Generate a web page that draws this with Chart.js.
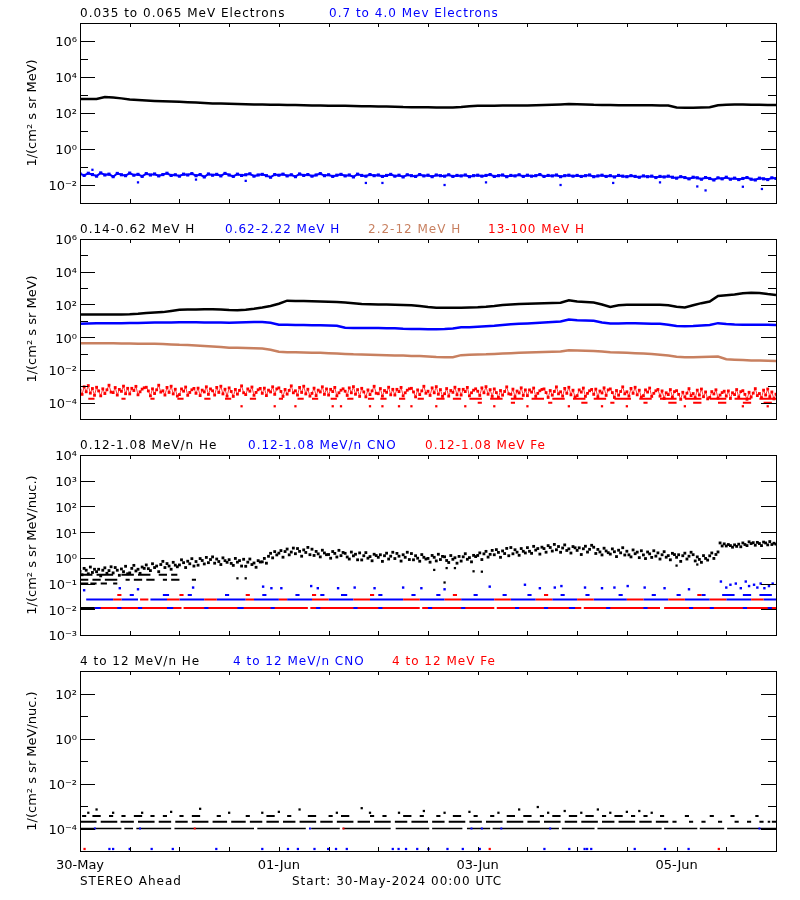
<!DOCTYPE html>
<html>
<head>
<meta charset="utf-8">
<script src="https://cdn.jsdelivr.net/npm/chart.js@4.4.1/dist/chart.umd.min.js"></script>
<style>
  body { margin: 0; background: #fff; }
  #page { position: relative; width: 800px; height: 900px; overflow: hidden; font-family: 'DejaVu Sans'; }
  canvas { position: absolute; left: 0; }
  .lbl { position: absolute; font-size: 12px; letter-spacing: 1px; line-height: 14px; white-space: pre; }
</style>
</head>
<body>
<div id="page"></div>
<script>
// hours since 30-May-2024 00:00 UTC
const xTickHours = [0, 12, 24, 36, 48, 60, 72, 84, 96, 108, 120, 132, 144, 156, 168]
const dayTickHours = [0, 48, 96, 144]
const dayTickLabels = ['30-May', '01-Jun', '03-Jun', '05-Jun']

// panel 1 - electrons
const electronLowStep = 2
const electronLow = [
  600, 600, 600, 780, 720, 650, 560, 530, 500, 470,
  450, 440, 420, 400, 380, 360, 340, 335, 330, 320,
  310, 300, 295, 290, 285, 280, 275, 270, 265, 260,
  255, 252, 250, 245, 240, 235, 230, 228, 225, 215,
  212, 210, 208, 205, 200, 205, 215, 235, 255, 255,
  255, 258, 262, 265, 265, 270, 275, 285, 300, 315,
  310, 300, 285, 278, 275, 272, 270, 270, 268, 266,
  265, 262, 200, 196, 198, 205, 210, 270, 290, 300,
  295, 290, 285, 280, 278
]
const electronHighStep = 1
const electronHigh = [
  0.042, 0.034, 0.045, 0.038, 0.031, 0.047, 0.036, 0.040, 0.029, 0.044, 0.037, 0.033,
  0.046, 0.035, 0.039, 0.030, 0.043, 0.036, 0.041, 0.032, 0.038, 0.045, 0.034, 0.037,
  0.031, 0.040, 0.036, 0.043, 0.033, 0.038, 0.028, 0.041, 0.035, 0.039, 0.032, 0.044,
  0.036, 0.030, 0.040, 0.034, 0.037, 0.042, 0.031, 0.036, 0.039, 0.033, 0.027, 0.038,
  0.035, 0.040, 0.032, 0.037, 0.029, 0.041, 0.034, 0.038, 0.031, 0.036, 0.043, 0.033,
  0.037, 0.030, 0.035, 0.039, 0.032, 0.036, 0.028, 0.040, 0.034, 0.031, 0.038, 0.033,
  0.036, 0.030, 0.034, 0.039, 0.031, 0.035, 0.028, 0.037, 0.033, 0.030, 0.038, 0.032,
  0.035, 0.029, 0.036, 0.033, 0.031, 0.037, 0.030, 0.034, 0.032, 0.036, 0.029, 0.033,
  0.035, 0.031, 0.034, 0.038, 0.030, 0.033, 0.036, 0.029, 0.034, 0.032, 0.037, 0.030,
  0.035, 0.031, 0.033, 0.038, 0.030, 0.034, 0.032, 0.036, 0.029, 0.033, 0.035, 0.031,
  0.034, 0.030, 0.033, 0.036, 0.029, 0.032, 0.035, 0.030, 0.033, 0.028, 0.034, 0.031,
  0.029, 0.033, 0.030, 0.027, 0.032, 0.029, 0.031, 0.026, 0.030, 0.028, 0.031, 0.027,
  0.024, 0.029, 0.026, 0.022, 0.027, 0.025, 0.021, 0.026, 0.023, 0.019, 0.025, 0.022,
  0.027, 0.021, 0.024, 0.020, 0.023, 0.026, 0.021, 0.019, 0.024, 0.022, 0.020, 0.025,
  0.023
]
const electronOutHours = [3, 14, 28, 40, 69, 73, 88, 98, 116, 128.7, 140, 149, 151, 160, 164.6]
const electronOutValues = [0.07, 0.014, 0.02, 0.017, 0.013, 0.013, 0.01, 0.014, 0.01, 0.013, 0.014, 0.0083, 0.005, 0.008, 0.006]

// panel 2 - protons
const protonStep = 2
const proton014 = [
  24, 24, 24, 24, 24, 24, 25, 27, 30, 32,
  34, 40, 47, 49, 50, 51, 51, 50, 46, 44,
  48, 55, 65, 80, 110, 170, 165, 160, 155, 150,
  145, 140, 130, 118, 108, 104, 100, 98, 95, 94,
  90, 80, 70, 63, 62, 62, 64, 66, 68, 72,
  80, 92, 100, 108, 112, 115, 118, 122, 128, 180,
  150, 140, 130, 100, 70, 88, 95, 95, 95, 96,
  95, 90, 72, 65, 90, 120, 150, 330, 360, 400,
  480, 520, 500, 430, 380
]
const proton062 = [
  6.6, 6.8, 7.0, 7.0, 7.2, 7.2, 7.4, 7.4, 7.6, 7.8,
  7.8, 8.0, 8.2, 8.2, 8.2, 8.0, 8.0, 7.8, 7.6, 7.8,
  8.2, 8.4, 8.4, 7.6, 5.8, 5.8, 5.6, 5.6, 5.4, 5.3,
  5.2, 5.0, 3.8, 3.7, 3.7, 3.6, 3.6, 3.5, 3.5, 3.3,
  3.2, 3.2, 3.1, 3.1, 3.2, 3.4, 4.0, 4.1, 4.3, 4.6,
  5.0, 5.6, 6.2, 6.6, 6.9, 7.4, 8.0, 8.6, 9.2, 12,
  11, 10.5, 10, 8.0, 6.8, 6.8, 7.0, 7.0, 6.8, 6.6,
  6.6, 5.8, 4.9, 4.7, 4.8, 5.2, 5.6, 7.2, 6.4, 6.0,
  5.8, 5.8, 5.7, 5.7, 5.6
]
const proton22 = [
  0.43, 0.43, 0.42, 0.42, 0.42, 0.41, 0.41, 0.40, 0.40, 0.39,
  0.38, 0.36, 0.34, 0.33, 0.31, 0.29, 0.27, 0.25, 0.23, 0.23,
  0.22, 0.21, 0.20, 0.17, 0.13, 0.12, 0.12, 0.115, 0.11, 0.11,
  0.105, 0.10, 0.095, 0.09, 0.088, 0.085, 0.082, 0.08, 0.076, 0.075,
  0.072, 0.07, 0.066, 0.062, 0.06, 0.06, 0.08, 0.085, 0.088, 0.09,
  0.095, 0.10, 0.105, 0.11, 0.115, 0.12, 0.125, 0.13, 0.135, 0.16,
  0.155, 0.15, 0.145, 0.135, 0.12, 0.115, 0.11, 0.105, 0.10, 0.095,
  0.085, 0.075, 0.063, 0.06, 0.06, 0.062, 0.064, 0.066, 0.045, 0.042,
  0.04, 0.038, 0.037, 0.036, 0.035
]
const proton13Step = 0.5
const proton13 = [
  5.8e-4, 3.2e-4, 9.3e-4, 4.6e-4, 1.1e-3, 3.8e-4, 7.3e-4, 2.8e-4,
  8.7e-4, 5.2e-4, 2.6e-4, 7.0e-4, 3.6e-4, 6.1e-4, 1.16e-3, 4.4e-4,
  4.1e-4, 8.4e-4, 2.9e-4, 6.4e-4, 4.9e-4, 1.02e-3, 3.5e-4, 7.5e-4,
  3.4e-4, 7.5e-4, 5.5e-4, 9.9e-4, 3.0e-4, 4.6e-4, 6.7e-4, 8.1e-4,
  8.7e-4, 5.2e-4, 2.6e-4, 7.0e-4, 3.6e-4, 6.1e-4, 1.16e-3, 4.4e-4,
  5.3e-4, 2.9e-4, 8.5e-4, 4.2e-4, 1.01e-3, 3.4e-4, 6.6e-4, 2.5e-4,
  3.1e-4, 6.9e-4, 5.0e-4, 9.0e-4, 2.8e-4, 4.2e-4, 6.1e-4, 7.4e-4,
  3.7e-4, 7.7e-4, 2.7e-4, 5.8e-4, 4.5e-4, 9.3e-4, 3.2e-4, 6.9e-4,
  5.3e-4, 2.9e-4, 8.5e-4, 4.2e-4, 1.01e-3, 3.4e-4, 6.6e-4, 2.5e-4,
  8.0e-4, 4.8e-4, 2.4e-4, 6.4e-4, 3.3e-4, 5.6e-4, 1.06e-3, 4.0e-4,
  3.1e-4, 6.9e-4, 5.0e-4, 9.0e-4, 2.8e-4, 4.2e-4, 6.1e-4, 7.4e-4,
  3.7e-4, 7.7e-4, 2.7e-4, 5.8e-4, 4.5e-4, 9.3e-4, 3.2e-4, 6.9e-4,
  8.0e-4, 4.8e-4, 2.4e-4, 6.4e-4, 3.3e-4, 5.6e-4, 1.06e-3, 4.0e-4,
  5.3e-4, 2.9e-4, 8.5e-4, 4.2e-4, 1.01e-3, 3.4e-4, 6.6e-4, 2.5e-4,
  3.7e-4, 7.7e-4, 2.7e-4, 5.8e-4, 4.5e-4, 9.3e-4, 3.2e-4, 6.9e-4,
  2.9e-4, 6.5e-4, 4.75e-4, 8.5e-4, 2.6e-4, 4.0e-4, 5.75e-4, 7.0e-4,
  5.0e-4, 2.75e-4, 8.0e-4, 4.0e-4, 9.5e-4, 3.25e-4, 6.25e-4, 2.4e-4,
  7.5e-4, 4.5e-4, 2.25e-4, 6.0e-4, 3.1e-4, 5.25e-4, 1.0e-3, 3.75e-4,
  3.5e-4, 7.25e-4, 2.5e-4, 5.5e-4, 4.25e-4, 8.75e-4, 3.0e-4, 6.5e-4,
  2.9e-4, 6.5e-4, 4.75e-4, 8.5e-4, 2.6e-4, 4.0e-4, 5.75e-4, 7.0e-4,
  7.5e-4, 4.5e-4, 2.25e-4, 6.0e-4, 3.1e-4, 5.25e-4, 1.0e-3, 3.75e-4,
  5.0e-4, 2.75e-4, 8.0e-4, 4.0e-4, 9.5e-4, 3.25e-4, 6.25e-4, 2.4e-4,
  3.5e-4, 7.25e-4, 2.5e-4, 5.5e-4, 4.25e-4, 8.75e-4, 3.0e-4, 6.5e-4,
  2.9e-4, 6.5e-4, 4.75e-4, 8.5e-4, 2.6e-4, 4.0e-4, 5.75e-4, 7.0e-4,
  5.0e-4, 2.75e-4, 8.0e-4, 4.0e-4, 9.5e-4, 3.25e-4, 6.25e-4, 2.4e-4,
  6.9e-4, 4.1e-4, 2.07e-4, 5.5e-4, 2.85e-4, 4.8e-4, 9.2e-4, 3.45e-4,
  3.2e-4, 6.7e-4, 2.3e-4, 5.1e-4, 3.9e-4, 8.05e-4, 2.76e-4, 6.0e-4,
  2.67e-4, 6.0e-4, 4.4e-4, 7.8e-4, 2.4e-4, 3.7e-4, 5.3e-4, 6.4e-4,
  6.9e-4, 4.1e-4, 2.07e-4, 5.5e-4, 2.85e-4, 4.8e-4, 9.2e-4, 3.45e-4,
  4.6e-4, 2.5e-4, 7.4e-4, 3.7e-4, 8.7e-4, 3.0e-4, 5.75e-4, 2.2e-4,
  2.67e-4, 6.0e-4, 4.4e-4, 7.8e-4, 2.4e-4, 3.7e-4, 5.3e-4, 6.4e-4,
  3.2e-4, 6.7e-4, 2.3e-4, 5.1e-4, 3.9e-4, 8.05e-4, 2.76e-4, 6.0e-4,
  6.9e-4, 4.1e-4, 2.07e-4, 5.5e-4, 2.85e-4, 4.8e-4, 9.2e-4, 3.45e-4,
  4.6e-4, 2.5e-4, 7.4e-4, 3.7e-4, 8.7e-4, 3.0e-4, 5.75e-4, 2.2e-4,
  2.67e-4, 6.0e-4, 4.4e-4, 7.8e-4, 2.4e-4, 3.7e-4, 5.3e-4, 6.4e-4,
  2.5e-4, 5.2e-4, 1.8e-4, 4.0e-4, 3.1e-4, 6.3e-4, 2.2e-4, 4.7e-4,
  5.4e-4, 3.2e-4, 1.6e-4, 4.3e-4, 2.2e-4, 3.8e-4, 7.2e-4, 2.7e-4,
  3.6e-4, 2.0e-4, 5.8e-4, 2.9e-4, 6.8e-4, 2.3e-4, 4.5e-4, 1.7e-4,
  2.1e-4, 4.7e-4, 3.4e-4, 6.1e-4, 1.9e-4, 2.9e-4, 4.1e-4, 5.0e-4,
  2.5e-4, 5.2e-4, 1.8e-4, 4.0e-4, 3.1e-4, 6.3e-4, 2.2e-4, 4.7e-4,
  5.4e-4, 3.2e-4, 1.6e-4, 4.3e-4, 2.2e-4, 3.8e-4, 7.2e-4, 2.7e-4,
  3.6e-4, 2.0e-4, 5.8e-4, 2.9e-4, 6.8e-4, 2.3e-4, 4.5e-4, 1.7e-4,
  3.3e-4
]
// single-count rows of the 13-100 MeV channel: [start, end] hours
const proton13RowA = [[2, 3.5], [10, 11], [17, 18], [23.5, 25], [30, 31.5], [35, 36.5], [41, 42.5], [48, 49], [52.5, 54], [56, 57.5], [60.5, 62], [64.5, 66], [69.5, 71], [72.5, 74], [77, 78.5], [81.5, 83], [86, 88], [90, 92], [94, 97], [99, 102], [104, 107], [109, 112], [114, 117], [119, 122], [124, 127], [129, 133], [135, 138], [140, 144], [146, 150], [152, 156], [158, 162], [164, 168]]
const proton13RowALevel = 1.7e-4
const proton13RowB = [[96, 97], [104, 105], [113, 114], [121, 122.5], [128, 129], [136, 137], [142, 144], [148, 150], [154, 156], [160, 162], [165, 167]]
const proton13RowBLevel = 1.0e-4
const proton13LowHours = [39, 47, 52, 61, 63, 70, 73, 77, 80, 86, 93, 100, 108, 118, 126, 132, 146, 160, 166]
const proton13LowLevel = 6e-5

// panel 3 - 0.12-1.08 MeV/n heavy ions
const heLowStep = 0.5
const heLow = [
  0.3, 0.22, 0.39, 0.33, 0.24, 0.44, 0.27, 0.36,
  0.29, 0.36, 0.2, 0.33, 0.41, 0.25, 0.32, 0.45,
  0.26, 0.42, 0.33, 0.21, 0.37, 0.29, 0.47, 0.24,
  0.26, 0.39, 0.51, 0.31, 0.36, 0.25, 0.44, 0.39,
  0.53, 0.38, 0.32, 0.59, 0.42, 0.48, 0.29, 0.55,
  0.73, 0.42, 0.6, 0.48, 0.36, 0.67, 0.52, 0.45,
  0.53, 0.84, 0.65, 0.42, 0.74, 0.59, 0.93, 0.48,
  0.72, 0.52, 0.94, 0.79, 0.58, 1.04, 0.65, 0.86,
  1.09, 0.62, 0.9, 0.72, 0.55, 1.0, 0.78, 0.67,
  0.85, 0.61, 0.51, 0.95, 0.68, 0.78, 0.48, 0.88,
  0.47, 0.68, 0.9, 0.55, 0.63, 0.43, 0.78, 0.69,
  0.7, 0.95, 0.62, 1.15, 1.5, 1.0, 1.75, 1.3,
  1.52, 1.92, 1.06, 1.76, 2.2, 1.31, 1.68, 2.4,
  1.45, 2.3, 1.79, 1.16, 2.04, 1.62, 2.55, 1.33,
  2.17, 1.24, 1.78, 1.43, 1.09, 1.98, 1.55, 1.33,
  1.35, 0.97, 1.76, 1.49, 1.08, 1.96, 1.22, 1.62,
  1.5, 1.08, 0.9, 1.68, 1.2, 1.38, 0.84, 1.56,
  0.83, 1.21, 1.6, 0.97, 1.12, 0.77, 1.38, 1.23,
  1.05, 1.32, 0.73, 1.21, 1.52, 0.9, 1.16, 1.65,
  0.94, 1.49, 1.16, 0.75, 1.32, 1.05, 1.65, 0.86,
  1.47, 0.84, 1.21, 0.97, 0.74, 1.34, 1.05, 0.9,
  0.95, 0.68, 1.24, 1.05, 0.76, 1.38, 0.86, 1.14,
  1.1, 0.79, 0.66, 1.23, 0.88, 1.01, 0.62, 1.14,
  0.75, 1.1, 1.45, 0.88, 1.02, 0.7, 1.25, 1.12,
  1.24, 1.56, 0.86, 1.43, 1.79, 1.07, 1.37, 1.95,
  1.32, 2.09, 1.63, 1.05, 1.86, 1.47, 2.33, 1.21,
  2.52, 1.44, 2.07, 1.66, 1.26, 2.3, 1.8, 1.55,
  2.5, 1.8, 1.5, 2.8, 2.0, 2.3, 1.4, 2.6,
  2.3, 1.66, 2.99, 2.53, 1.84, 3.34, 2.07, 2.76,
  1.65, 2.42, 3.19, 1.94, 2.24, 1.54, 2.75, 2.46,
  1.95, 2.46, 1.35, 2.26, 2.83, 1.68, 2.15, 3.08,
  2.59, 1.48, 2.13, 1.7, 1.3, 2.37, 1.85, 1.59,
  1.4, 2.23, 1.73, 1.12, 1.98, 1.57, 2.48, 1.29,
  1.81, 1.31, 1.09, 2.03, 1.45, 1.67, 1.02, 1.89,
  1.3, 0.94, 1.69, 1.43, 1.04, 1.89, 1.17, 1.56,
  0.9, 1.32, 1.74, 1.06, 1.22, 0.84, 1.5, 1.34,
  1.05, 1.32, 0.73, 1.21, 1.52, 0.9, 1.16, 1.65,
  1.33, 0.76, 1.09, 0.87, 0.67, 1.22, 0.95, 0.82,
  1.2, 1.55, 0.95, 1.35, 1.7, 3.8, 2.9, 3.5,
  2.9, 3.3, 3.0, 2.6, 3.2, 2.8, 3.4, 2.7,
  3.8, 3.3, 3.0, 4.2, 3.6, 3.9, 3.1, 4.0,
  3.6, 3.0, 4.1, 3.8, 3.2, 4.3, 3.3, 3.7,
  3.4
]
const heOutHours = [38, 40, 85.5, 88, 88.5, 90.5, 95, 97, 144, 149]
const heOutValues = [0.16, 0.16, 0.34, 0.11, 0.4, 0.4, 0.3, 0.29, 0.5, 0.55]
const heRowA = [[0, 3], [4, 8], [10, 13], [14, 17], [19, 21], [22, 23.5]]
const heRowALevel = 0.22
const heRowB = [[0, 2], [3, 5], [6, 9], [11, 12], [13, 15], [16, 18], [20, 21], [22, 24], [27, 28]]
const heRowBLevel = 0.14
const heRowC = [[0, 2], [2.5, 4], [5, 6.5], [8, 9]]
const heRowCLevel = 0.1
const heFloor = [[0, 3.5]]

const countLevels = [0.0112, 0.024, 0.036]
const feRow1 = [[0, 24.5], [25, 55], [55.6, 82], [82.6, 100], [100.6, 121], [121.6, 140], [141, 168]]
const cnoRow1 = [[3.5, 5], [9, 10], [14, 15], [21, 22.5], [30, 31], [38, 39.5], [46, 47], [57, 58], [66, 67], [72, 73], [84, 85], [92, 93], [105, 106], [112, 113], [118, 119.5], [127, 128], [136, 137], [147, 148], [152, 153], [160, 161], [166, 167]]
const cnoRow2 = [[1.5, 8], [10, 14], [17, 21], [24, 30], [33, 40], [42, 48], [50, 56], [60, 66], [70, 78], [82, 88], [92, 100], [104, 110], [114, 120], [124, 132], [136, 142], [146, 152], [156, 162], [165, 168]]
const feRow2 = [[8, 10], [14.5, 16.5], [21, 24], [30, 33], [40, 42], [48, 50], [56, 60], [66, 70], [78, 82], [88, 92], [100, 104], [110, 114], [120, 124], [132, 136], [142, 146], [152, 156], [162, 165]]
const cnoRow3 = [[12, 13], [20, 21.5], [26, 27], [35, 36], [44, 45], [52, 53], [58, 59], [63, 64.5], [72, 73], [80, 81], [86, 87], [95, 96], [102, 103], [108, 109], [116, 117], [122, 123], [130, 131], [138, 139], [144, 145], [150, 151], [155, 158], [160, 162], [164, 167]]
const feRow3 = [[9, 10], [24, 25], [40, 41], [56, 57], [70, 71], [90, 91], [112, 113], [149, 150]]
const cnoDotHours = [1, 9.6, 14, 27.3, 44.2, 46.2, 48.6, 55.8, 57.4, 62.3, 66.3, 71.1, 78, 82.4, 88, 98.9, 107.4, 111, 114.6, 116.2, 121.9, 126, 129, 132.2, 136.3, 141.1, 147, 154.7, 156, 157, 158.3, 159.5, 160.7, 161.5, 162.7, 163.5, 164.3, 165.2, 166.3, 167.2]
const cnoDotValues = [0.055, 0.066, 0.06, 0.07, 0.076, 0.066, 0.066, 0.08, 0.066, 0.066, 0.07, 0.066, 0.07, 0.066, 0.06, 0.076, 0.09, 0.066, 0.07, 0.08, 0.07, 0.066, 0.07, 0.08, 0.07, 0.066, 0.06, 0.12, 0.07, 0.09, 0.1, 0.066, 0.12, 0.08, 0.09, 0.07, 0.1, 0.066, 0.08, 0.1]

// panel 4 - 4 to 12 MeV/n heavy ions
const he4Row1 = [[0, 10], [10.7, 12.8], [13.6, 22], [22.8, 42], [42.8, 54.5], [55.8, 62.7], [63.4, 75], [76.2, 84.3], [85, 92.3], [93.4, 99], [99.6, 115.6], [116.3, 124.2], [124.9, 140.4], [141, 149], [149.6, 155.5], [156.2, 168]]
const he4Row1Level = 1e-4
const he4Row2 = [[0, 4], [5, 9], [9.8, 13], [14, 18], [19, 22], [23, 26], [27, 31], [32, 35.5], [36.5, 40], [41, 44], [45, 48], [49, 52], [53, 57], [58, 61], [62, 66], [67, 70], [71, 75], [76, 79], [80, 84], [85, 88], [89, 93], [94, 97], [98, 102], [103, 107], [108, 111], [112, 116], [117, 120], [121, 125], [126, 129], [130, 134], [135, 138], [139, 142], [143, 144], [147, 148], [150, 151], [154, 155], [158, 159], [161, 162], [164, 165], [166, 166.6], [167, 168]]
const he4Row2Level = 2e-4
const he4Row3 = [[0.5, 1.5], [3, 5], [7, 8], [10, 11], [13, 15], [17, 18], [20, 21], [24, 25], [27, 29], [33, 34], [40, 41], [45, 47], [50, 51], [55, 57], [60, 61], [63, 65], [70, 71], [73, 74], [78, 80], [82, 83], [86, 87], [90, 92], [95, 96], [99, 100], [103, 105], [107, 109], [111, 112], [114, 116], [118, 120], [122, 124], [126, 127], [129, 131], [133, 134], [136, 137], [140, 141], [146, 147], [152, 153], [157, 158], [163, 163.8]]
const he4Row3Level = 3.6e-4
const he4DotHours = [2, 4, 8, 15, 22, 29, 36, 44, 48, 53, 62, 68, 70, 77, 83, 88, 94, 101, 106, 110.5, 113, 117, 121, 125, 128, 132, 135, 138]
const he4DotValues = [5e-4, 7e-4, 5e-4, 5e-4, 5.5e-4, 7.5e-4, 5e-4, 5e-4, 5.5e-4, 7e-4, 5e-4, 8e-4, 5e-4, 5e-4, 6e-4, 5e-4, 5.5e-4, 5e-4, 7e-4, 9e-4, 5e-4, 6e-4, 5e-4, 7e-4, 5e-4, 5.5e-4, 6e-4, 5e-4]
const cno4RowHours = [3.6, 14.5, 55.5, 94.5, 97, 101.7, 113.5, 164]
const fe4RowHours = [27.7, 63.6]
const floor4Level = 1.23e-5
const cno4FloorHours = [7.1, 8, 12, 17.3, 22.4, 32.9, 44, 50.2, 52.6, 56.6, 59.9, 61.8, 64.4, 75.5, 76.9, 78.7, 81.4, 84.1, 88.7, 92.4, 96.5, 112.1, 118.1, 121.8, 122.4, 123.4, 133.9, 141.2, 146.9]
const fe4FloorHours = [1.1, 98.9, 154.2]

const black = '#000000'
const blue = '#0000ff'
const red = '#ff0000'
const brown = 'rgb(200,128,96)'

const grid = (vals, step) => vals.map((v, i) => ({ x: i * step, y: v }))
const pairs = (hours, vals) => hours.map((h, i) => ({ x: h, y: vals[i] }))
const atLevel = (hours, level) => hours.map(h => ({ x: h, y: level }))
const spans = (list, level) => list.flatMap(([a, b]) => [{ x: a, y: level }, { x: b, y: level }, { x: b, y: null }])

const lineSet = (data, color, width) => ({
  data, borderColor: color, borderWidth: width, pointRadius: 0, tension: 0, spanGaps: false
})
const dotSet = (data, color, r) => ({
  data, showLine: false, pointStyle: 'rect', pointRadius: r, pointHoverRadius: 0,
  pointBackgroundColor: color, pointBorderWidth: 0
})

const sup = { '0': '⁰', '1': '¹', '2': '²', '3': '³', '4': '⁴', '5': '⁵', '6': '⁶', '7': '⁷', '-': '⁻' }
const powLabel = v => '10' + String(Math.round(Math.log10(v))).split('').map(c => sup[c]).join('')

// back to front
const panels = [
  {
    top: 23, min: 1e-3, max: 1e7, major: [-2, 0, 2, 4, 6], minor: [-1, 1, 3, 5],
    yTitle: '1/(cm² s sr MeV)',
    titles: [['0.035 to 0.065 MeV Electrons', black, 80], ['0.7 to 4.0 Mev Electrons', blue, 329]],
    sets: [
      lineSet(grid(electronLow, electronLowStep), black, 2.5),
      lineSet(grid(electronHigh, electronHighStep), blue, 2),
      dotSet(grid(electronHigh, electronHighStep), blue, 2.2),
      dotSet(pairs(electronOutHours, electronOutValues), blue, 1.6)
    ]
  },
  {
    top: 239, min: 1e-5, max: 1e6, major: [-4, -2, 0, 2, 4, 6], minor: [-3, -1, 1, 3, 5],
    yTitle: '1/(cm² s sr MeV)',
    titles: [['0.14-0.62 MeV H', black, 80], ['0.62-2.22 MeV H', blue, 225], ['2.2-12 MeV H', brown, 368], ['13-100 MeV H', red, 488]],
    sets: [
      lineSet(grid(proton014, protonStep), black, 2.5),
      lineSet(grid(proton062, protonStep), blue, 2.5),
      lineSet(grid(proton22, protonStep), brown, 2.5),
      lineSet(spans(proton13RowA, proton13RowALevel), red, 2),
      lineSet(spans(proton13RowB, proton13RowBLevel), red, 2),
      dotSet(atLevel(proton13LowHours, proton13LowLevel), red, 1.6),
      lineSet(grid(proton13, proton13Step), red, 0.8),
      dotSet(grid(proton13, proton13Step), red, 2)
    ]
  },
  {
    top: 455, min: 1e-3, max: 1e4, major: [-3, -2, -1, 0, 1, 2, 3, 4], minor: [],
    yTitle: '1/(cm² s sr MeV/nuc.)',
    titles: [['0.12-1.08 MeV/n He', black, 80], ['0.12-1.08 MeV/n CNO', blue, 248], ['0.12-1.08 MeV Fe', red, 425]],
    sets: [
      lineSet(spans(feRow1, countLevels[0]), red, 2),
      lineSet(spans(cnoRow1, countLevels[0]), blue, 2),
      lineSet(spans(cnoRow2, countLevels[1]), blue, 2),
      lineSet(spans(feRow2, countLevels[1]), red, 2),
      lineSet(spans(cnoRow3, countLevels[2]), blue, 2),
      lineSet(spans(feRow3, countLevels[2]), red, 2),
      dotSet(pairs(cnoDotHours, cnoDotValues), blue, 1.7),
      lineSet(spans(heFloor, countLevels[0]), black, 2),
      lineSet(spans(heRowA, heRowALevel), black, 2),
      lineSet(spans(heRowB, heRowBLevel), black, 2),
      lineSet(spans(heRowC, heRowCLevel), black, 2),
      dotSet(pairs(heOutHours, heOutValues), black, 1.6),
      dotSet(grid(heLow, heLowStep), black, 2)
    ]
  },
  {
    top: 671, min: 1e-5, max: 1e3, major: [-4, -2, 0, 2], minor: [-3, -1, 1],
    yTitle: '1/(cm² s sr MeV/nuc.)', showX: true,
    titles: [['4 to 12 MeV/n He', black, 80], ['4 to 12 MeV/n CNO', blue, 233], ['4 to 12 MeV Fe', red, 392]],
    sets: [
      lineSet(spans(he4Row1, he4Row1Level), black, 1.5),
      lineSet(spans(he4Row2, he4Row2Level), black, 2),
      lineSet(spans(he4Row3, he4Row3Level), black, 2),
      dotSet(pairs(he4DotHours, he4DotValues), black, 1.6),
      dotSet(atLevel(cno4RowHours, he4Row1Level), blue, 1.4),
      dotSet(atLevel(fe4RowHours, he4Row1Level), red, 1.4),
      dotSet(atLevel(cno4FloorHours, floor4Level), blue, 1.6),
      dotSet(atLevel(fe4FloorHours, floor4Level), red, 1.6)
    ]
  }
]

// frame and inward ticks, IDL style
const frame = p => ({
  id: 'frame',
  afterDatasetsDraw (chart) {
    const { ctx, chartArea: a, scales } = chart
    ctx.save()
    ctx.strokeStyle = '#000'
    ctx.lineWidth = 1
    ctx.beginPath()
    p.major.concat(p.minor).forEach(e => {
      const len = p.major.includes(e) ? 15 : 8
      const py = Math.round(scales.y.getPixelForValue(Math.pow(10, e))) + 0.5
      ctx.moveTo(a.left, py); ctx.lineTo(a.left + len, py)
      ctx.moveTo(a.right, py); ctx.lineTo(a.right - len, py)
    })
    xTickHours.forEach(h => {
      const px = Math.round(scales.x.getPixelForValue(h)) + 0.5
      ctx.moveTo(px, a.bottom); ctx.lineTo(px, a.bottom - 4)
      ctx.moveTo(px, a.top); ctx.lineTo(px, a.top + 4)
    })
    ctx.stroke()
    ctx.strokeRect(a.left + 0.5, a.top + 0.5, a.width, a.height)
    ctx.restore()
  }
})

Chart.defaults.font.family = "'DejaVu Sans'"
Chart.defaults.font.size = 13
Chart.defaults.color = '#000'

const page = document.getElementById('page')

const addLabel = (text, color, left, top) => {
  const d = document.createElement('div')
  d.className = 'lbl'
  d.textContent = text
  d.style.color = color
  d.style.left = left + 'px'
  d.style.top = top + 'px'
  page.appendChild(d)
}

panels.forEach(p => {
  const padTop = 12
  const axisH = p.showX ? 26 : 0
  const padBottom = p.showX ? 0 : 12
  const canvas = document.createElement('canvas')
  canvas.width = 800
  canvas.height = padTop + 180 + axisH + padBottom
  canvas.style.top = (p.top - padTop) + 'px'
  page.appendChild(canvas)

  const datasets = p.sets.map((s, i) => Object.assign({}, s, { order: p.sets.length - i }))

  new Chart(canvas, {
    type: 'line',
    data: { datasets },
    options: {
      responsive: false,
      animation: false,
      devicePixelRatio: 1,
      events: [],
      layout: { padding: { top: padTop, right: 24, bottom: padBottom, left: 0 } },
      plugins: { legend: { display: false }, tooltip: { enabled: false } },
      scales: {
        x: {
          type: 'linear',
          min: 0,
          max: 168,
          display: !!p.showX,
          grid: { display: false, drawTicks: false },
          border: { display: false },
          afterBuildTicks: s => { s.ticks = xTickHours.map(v => ({ value: v })) },
          afterFit: s => { s.height = axisH },
          ticks: {
            autoSkip: false,
            maxRotation: 0,
            padding: 7,
            callback: v => {
              const i = dayTickHours.indexOf(v)
              return i >= 0 ? dayTickLabels[i] : ''
            }
          }
        },
        y: {
          type: 'logarithmic',
          min: p.min,
          max: p.max,
          grid: { display: false, drawTicks: false },
          border: { display: false },
          afterBuildTicks: s => { s.ticks = p.major.map(e => ({ value: Math.pow(10, e) })) },
          afterFit: s => { s.width = 80 },
          ticks: { autoSkip: false, padding: 3, labelOffset: 2, callback: v => powLabel(v) },
          title: { display: true, text: p.yTitle, padding: { top: 25, bottom: 0 } }
        }
      }
    },
    plugins: [frame(p)]
  })

  p.titles.forEach(([text, color, left]) => addLabel(text, color, left, p.top - 17))
})

addLabel('STEREO Ahead', black, 80, 874)
addLabel('Start: 30-May-2024 00:00 UTC', black, 292, 874)
</script>
</body>
</html>
